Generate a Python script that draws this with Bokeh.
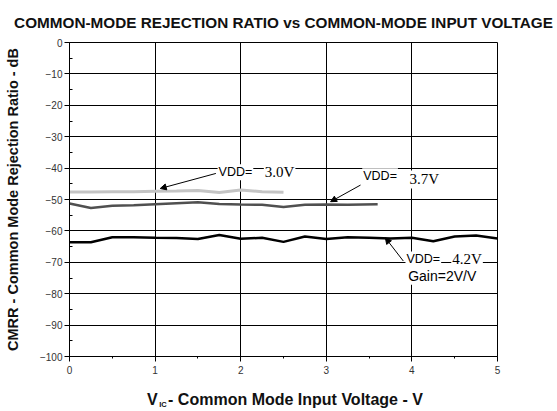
from bokeh.plotting import figure
from bokeh.models import Label, Arrow, NormalHead, SingleIntervalTicker, FixedTicker, Range1d, LinearAxis
from bokeh.embed import file_html
from bokeh.resources import INLINE

# ---- data ----
x_42 = [0, 0.25, 0.5, 0.75, 1.0, 1.25, 1.5, 1.75, 2.0, 2.25, 2.5, 2.75, 3.0, 3.25, 3.5, 3.75, 4.0, 4.25, 4.5, 4.75, 5.0]
y_42 = [-63.6, -63.6, -62.0, -62.0, -62.2, -62.3, -62.6, -61.3, -62.5, -62.2, -63.5, -61.8, -62.6, -62.0, -62.2, -62.4, -62.2, -63.3, -61.8, -61.5, -62.4]

x_37 = [0, 0.25, 0.5, 0.75, 1.0, 1.25, 1.5, 1.75, 2.0, 2.25, 2.5, 2.75, 3.0, 3.25, 3.6]
y_37 = [-51.3, -52.7, -52.0, -51.8, -51.5, -51.2, -50.9, -51.4, -51.6, -51.7, -52.4, -51.7, -51.6, -51.7, -51.5]

x_30 = [0, 0.25, 0.5, 0.75, 1.0, 1.25, 1.5, 1.75, 2.0, 2.25, 2.5]
y_30 = [-47.6, -47.6, -47.5, -47.5, -47.4, -47.3, -47.1, -47.8, -47.0, -47.5, -47.7]

title_text = "COMMON-MODE REJECTION RATIO vs COMMON-MODE INPUT VOLTAGE"
ylabel_text = "CMRR - Common Mode Rejection Ratio - dB"
xlabel_main = "V"
xlabel_sub = "IC"
xlabel_rest = "- Common Mode Input Voltage - V"

SANS = "Liberation Sans"
SERIF = "Liberation Serif"

W, H = 555, 411
p = figure(width=W, height=H, output_backend="svg", toolbar_location=None,
           x_range=Range1d(0, 5), y_range=Range1d(-100, 0),
           min_border_left=69, min_border_right=W - 497, min_border_top=41, min_border_bottom=H - 358)
p.background_fill_color = "white"
p.border_fill_color = "white"
p.outline_line_color = "black"
p.outline_line_width = 1

p.title.text = title_text
p.title.align = "center"
p.title.text_font = SANS
p.title.text_font_size = "15.3px"
p.title.text_font_style = "bold"
p.title.text_color = "#111111"
p.title.standoff = 23

p.xaxis.ticker = SingleIntervalTicker(interval=1, num_minor_ticks=2)
p.yaxis.ticker = SingleIntervalTicker(interval=10, num_minor_ticks=2)
for ax in (p.xaxis, p.yaxis):
    ax.axis_line_color = "black"
    ax.major_tick_line_color = "black"
    ax.minor_tick_line_color = "black"
    ax.major_label_text_font = SANS
    ax.major_label_text_font_size = "10px"
    ax.major_label_text_color = "#333333"
    ax.major_tick_out = 5
    ax.major_tick_in = 0
    ax.axis_label_text_font = SANS
    ax.axis_label_text_font_style = "bold"
    ax.axis_label_text_color = "#111111"
p.xaxis.minor_tick_out = 2
p.xaxis.minor_tick_in = 0
p.yaxis.minor_tick_out = 0
p.yaxis.minor_tick_in = 3
p.xaxis.major_label_standoff = 4
p.yaxis.major_label_standoff = 2
p.yaxis.axis_label = ylabel_text
p.yaxis.axis_label_text_font_size = "14.5px"
p.yaxis.axis_label_standoff = 16

p.grid.grid_line_color = "black"
p.grid.grid_line_width = 1
p.grid.grid_line_alpha = 1

# x-axis title drawn as tick labels of label-only axes (subscript IC, then V + rest)
pos_v, pos_rest, pos_sub = 0.967, 2.640, 1.092
ax_sub = LinearAxis(ticker=FixedTicker(ticks=[pos_sub], minor_ticks=[]),
                    major_label_overrides={pos_sub: xlabel_sub})
ax_main = LinearAxis(ticker=FixedTicker(ticks=[pos_v, pos_rest], minor_ticks=[]),
                     major_label_overrides={pos_v: xlabel_main, pos_rest: xlabel_rest})
for ax, size, so in ((ax_sub, "7.5px", 23), (ax_main, "16px", -21)):
    ax.axis_line_color = None
    ax.major_tick_line_color = None
    ax.minor_tick_line_color = None
    ax.major_tick_out = 0
    ax.major_tick_in = 0
    ax.minor_tick_out = 0
    ax.minor_tick_in = 0
    ax.major_label_text_font = SANS
    ax.major_label_text_font_style = "bold"
    ax.major_label_text_font_size = size
    ax.major_label_text_color = "#111111"
    ax.major_label_standoff = so
    p.add_layout(ax, "below")

p.line(x_30, y_30, line_color="#c4c4c4", line_width=3)
p.line(x_37, y_37, line_color="#505050", line_width=2.5)
p.line(x_42, y_42, line_color="black", line_width=2.5)

def lab(x, y, t, font=SANS, size="13px"):
    l = Label(x=x, y=y, text=t, text_font=font, text_font_size=size, text_align="left",
              text_baseline="middle", text_color="black",
              background_fill_color="white", padding=1)
    p.add_layout(l)

# annotations
lab(1.73, -41.3, "VDD=", SANS, "12.5px")
lab(2.27, -41.3, "3.0V", SERIF, "15px")
lab(3.42, -42.6, "VDD=", SANS, "12.5px")
lab(3.96, -43.6, "3.7V", SERIF, "15px")
lab(3.925, -69.1, "VDD=", SANS, "12.5px")
lab(4.46, -69.1, "4.2V", SERIF, "15px")
lab(3.945, -74.3, "Gain=2V/V", SANS, "14px")

for xs, ys, xe, ye in [(1.71, -41.7, 1.06, -46.5), (3.40, -45.4, 3.05, -50.7), (3.90, -69.6, 3.69, -62.2)]:
    p.add_layout(Arrow(x_start=xs, y_start=ys, x_end=xe, y_end=ye, line_color="black", line_width=1,
                       end=NormalHead(size=6, fill_color="black", line_color="black")))

open("out.html", "w").write(file_html(p, INLINE))
